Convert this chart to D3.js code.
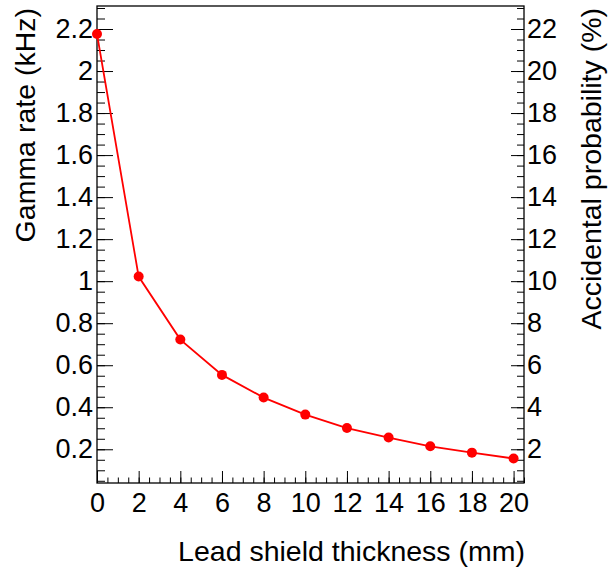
<!DOCTYPE html>
<html>
<head>
<meta charset="utf-8">
<script src="https://cdn.jsdelivr.net/npm/d3@7"></script>
<style>
  body { margin: 0; background: #fff; }
  svg { display: block; font-family: "Liberation Sans", Arial, sans-serif; }
</style>
</head>
<body>
<svg id="chart" width="608" height="567"></svg>
<script>
// Data
const thickness = [0, 2, 4, 6, 8, 10, 12, 14, 16, 18, 20];
const gammaRate = [2.176, 1.022, 0.722, 0.554, 0.446, 0.365, 0.301, 0.256, 0.214, 0.184, 0.156];

const xTicks = [0, 2, 4, 6, 8, 10, 12, 14, 16, 18, 20];
const leftTicks = [0.2, 0.4, 0.6, 0.8, 1, 1.2, 1.4, 1.6, 1.8, 2, 2.2];
const rightTicks = [2, 4, 6, 8, 10, 12, 14, 16, 18, 20, 22];

const svg = d3.select('#chart');

// Frame box
const frameLeft = 97, frameRight = 524, frameTop = 6, frameBottom = 483;

const x = d3.scaleLinear().domain([0, 20.5]).range([frameLeft, frameRight]);
const y = d3.scaleLinear().domain([0.0395, 2.3095]).range([frameBottom, frameTop]);
// accidental probability axis is the gamma rate scaled by 10
const y2 = d3.scaleLinear().domain([0.395, 23.095]).range([frameBottom, frameTop]);

// minor tick positions, one every `step` inside the domain
const minorOf = (scale, step) => {
  const [a, b] = scale.domain();
  const out = [];
  for (let v = Math.ceil(a / step) * step; v <= b + 1e-9; v += step) out.push(+v.toFixed(4));
  return out;
};

const fmt = (d) => String(d);

// Bottom axis
svg.append('g')
  .attr('transform', `translate(0,${frameBottom})`)
  .call(d3.axisBottom(x).tickValues(minorOf(x, 0.5)).tickSize(-5.5).tickFormat(''))
  .call((g) => g.select('.domain').remove());
svg.append('g')
  .attr('class', 'tick-label')
  .attr('transform', `translate(0,${frameBottom})`)
  .call(d3.axisBottom(x).tickValues(xTicks).tickSize(-12).tickPadding(9.5).tickFormat(fmt))
  .call((g) => g.select('.domain').remove());

// Left axis
svg.append('g')
  .attr('transform', `translate(${frameLeft},0)`)
  .call(d3.axisLeft(y).tickValues(minorOf(y, 0.05)).tickSize(-8).tickFormat(''))
  .call((g) => g.select('.domain').remove());
svg.append('g')
  .attr('class', 'tick-label')
  .attr('transform', `translate(${frameLeft},0)`)
  .call(d3.axisLeft(y).tickValues(leftTicks).tickSize(-16).tickPadding(4).tickFormat(fmt))
  .call((g) => g.select('.domain').remove());

// Right axis
svg.append('g')
  .attr('transform', `translate(${frameRight},0)`)
  .call(d3.axisRight(y2).tickValues(minorOf(y2, 0.5)).tickSize(-7).tickFormat(''))
  .call((g) => g.select('.domain').remove());
svg.append('g')
  .attr('class', 'tick-label')
  .attr('transform', `translate(${frameRight},0)`)
  .call(d3.axisRight(y2).tickValues(rightTicks).tickSize(-13).tickPadding(3).tickFormat(fmt))
  .call((g) => g.select('.domain').remove());

svg.selectAll('.tick line').attr('stroke', '#000').attr('stroke-width', 1);
svg.selectAll('.tick-label text')
  .attr('fill', '#000')
  .style('font-size', '27px')
  .style('font-family', '"Liberation Sans", Arial, sans-serif');

// Frame
svg.append('rect')
  .attr('x', frameLeft)
  .attr('y', frameTop)
  .attr('width', frameRight - frameLeft)
  .attr('height', frameBottom - frameTop)
  .attr('fill', 'none')
  .attr('stroke', '#000')
  .attr('stroke-width', 1.3);

// Curve and markers
const line = d3.line()
  .x((d, i) => x(thickness[i]))
  .y((d) => y(d));

svg.append('path')
  .datum(gammaRate)
  .attr('d', line)
  .attr('fill', 'none')
  .attr('stroke', '#ff0000')
  .attr('stroke-width', 1.8);

svg.append('g')
  .selectAll('circle')
  .data(gammaRate)
  .join('circle')
  .attr('cx', (d, i) => x(thickness[i]))
  .attr('cy', (d) => y(d))
  .attr('r', 5)
  .attr('fill', '#ff0000');

// Axis titles
svg.append('text')
  .attr('x', 525)
  .attr('y', 561)
  .attr('text-anchor', 'end')
  .style('font-size', '28.5px')
  .text('Lead shield thickness (mm)');

svg.append('text')
  .attr('transform', 'translate(35,8) rotate(-90)')
  .attr('text-anchor', 'end')
  .style('font-size', '28.5px')
  .text('Gamma rate (kHz)');

svg.append('text')
  .attr('transform', 'translate(601,8) rotate(-90)')
  .attr('text-anchor', 'end')
  .style('font-size', '28.5px')
  .text('Accidental probability (%)');
</script>
</body>
</html>
